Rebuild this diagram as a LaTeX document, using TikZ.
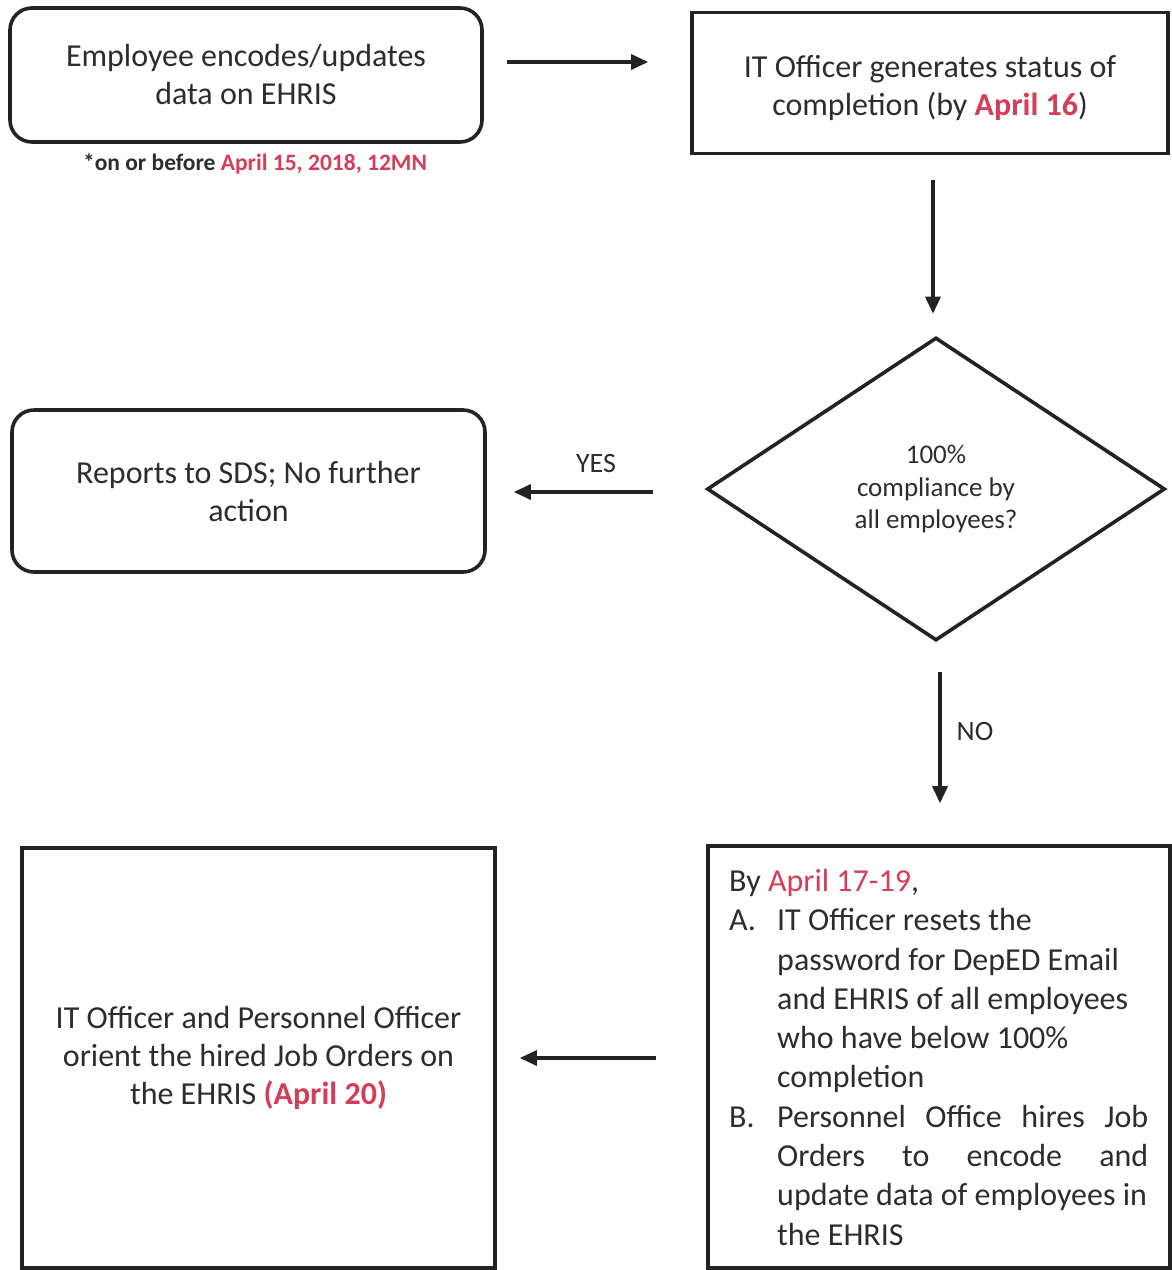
\documentclass[tikz,border=0pt]{standalone}
\usepackage{fontspec}
\setmainfont{Carlito}
\usetikzlibrary{shapes.geometric,arrows.meta}
\definecolor{txt}{RGB}{45,45,45}
\definecolor{edge}{RGB}{35,35,35}
\definecolor{datered}{RGB}{212,62,88}
\newcommand{\hl}[1]{\textcolor{datered}{#1}}
\tikzset{
  every node/.style={text=txt},
  roundbox/.style={draw=edge, line width=3.6pt, rounded corners=22pt, inner sep=0pt},
  sqbox/.style={draw=edge, line width=3.6pt, inner sep=0pt},
  maintext/.style={font=\fontsize{32}{38}\selectfont, align=center},
  decision/.style={draw=edge, line width=3.6pt, shape=diamond, inner sep=0pt, aspect=1.5},
  arr/.style={draw=edge, line width=3.2pt, -{Triangle[length=17pt,width=15pt]}},
  lbl/.style={font=\fontsize{28}{32}\selectfont}
}
\begin{document}
\begin{tikzpicture}[x=1pt,y=-1pt]
\useasboundingbox[fill=white] (0,0) rectangle (1172,1270);

% boxes
\node[roundbox, maintext, minimum width=472pt, minimum height=134pt] (box1) at (246,75)
  {Employee encodes/updates\\data on EHRIS};
\node[font=\bfseries\fontsize{23.5}{26}\selectfont] (note) at (255,164)
  {*on or before \hl{April 15, 2018, 12MN}};

\node[sqbox, minimum width=476pt, minimum height=141pt] (box2) at (930,83) {};
\node[maintext] (t2) at (930,88)
  {IT Officer generates status of\\completion (by \hl{\bfseries April 16})};

\node[decision, minimum width=458pt, minimum height=303pt,
      font=\fontsize{27}{32.5}\selectfont, align=center] (dia) at (936,489)
  {100\%\\compliance by\\all employees?};

\node[roundbox, maintext, minimum width=473pt, minimum height=162pt] (box3) at (248.5,491)
  {Reports to SDS; No further\\action};

\node[sqbox, minimum width=462pt, minimum height=422pt] (box4) at (939,1057) {};
\node[anchor=north west, inner sep=0pt, font=\fontsize{32}{39.3}\selectfont] (t4) at (729,869)
  {\begin{minipage}{430pt}\raggedright
  By \hl{April 17-19},\\
  \makebox[48pt][l]{A.}IT Officer resets the\\
  \hspace*{48pt}password for DepED Email\\
  \hspace*{48pt}and EHRIS of all employees\\
  \hspace*{48pt}who have below 100\%\\
  \hspace*{48pt}completion\\
  \makebox[48pt][l]{B.}\makebox[371pt][s]{Personnel Office hires Job}\\
  \hspace*{48pt}\makebox[371pt][s]{Orders to encode and}\\
  \hspace*{48pt}update data of employees in\\
  \hspace*{48pt}the EHRIS
  \end{minipage}};

\node[sqbox, maintext, minimum width=473pt, minimum height=420pt] (box5) at (258.5,1058)
  {IT Officer and Personnel Officer\\orient the hired Job Orders on\\the EHRIS \hl{\bfseries(April 20)}};

% connectors
\draw[arr, shorten <=23pt, shorten >=42pt] (box1.east |- 0,62) -- (box2.west |- 0,62);
\draw[arr, shorten <=25pt, shorten >=22pt] (box2.south -| 933,0) -- (dia.north -| 933,0);
\draw[arr, shorten <=52pt, shorten >=27pt] (dia.west |- 0,492) -- (box3.east |- 0,492)
  node[pos=0.5, lbl, yshift=28pt] (yes) {YES};
\draw[arr, shorten <=30pt, shorten >=41pt] (dia.south -| 940,0) -- (box4.north -| 940,0);
\node[lbl] (no) at (975,731) {NO};
\draw[arr, shorten <=50pt, shorten >=23pt] (box4.west |- 0,1058) -- (box5.east |- 0,1058);
\end{tikzpicture}
\end{document}
